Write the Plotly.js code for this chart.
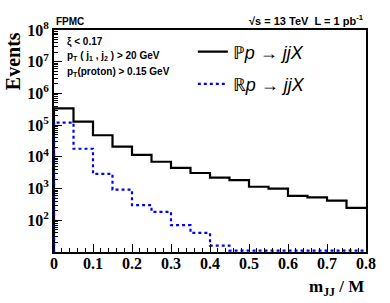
<!DOCTYPE html>
<html><head><meta charset="utf-8">
<script src="https://cdn.plot.ly/plotly-3.0.1.min.js"></script>
<style>html,body{margin:0;padding:0;background:#fff}#c{width:390px;height:303px}</style>
</head><body><div id="c"></div>
<script>
const binEdges = [0,0.05,0.1,0.15,0.2,0.25,0.3,0.35,0.4,0.45,0.5,0.55,0.6,0.65,0.7,0.75,0.8];
const pomeron = [340000,130000,48000,21000,11500,7000,4500,3100,2200,1850,1140,1000,590,525,415,247];
const reggeon = [120000,18000,2900,920,300,185,70,40,16,11,11,11,11,11,11,11];
const yTickVals = [1e2,1e3,1e4,1e5,1e6,1e7,1e8];
const yTickText = ['10<sup>2</sup>','10<sup>3</sup>','10<sup>4</sup>','10<sup>5</sup>','10<sup>6</sup>','10<sup>7</sup>','10<sup>8</sup>'];
const xTickVals = [0,0.1,0.2,0.3,0.4,0.5,0.6,0.7,0.8];
const xTickText = ['0','0.1','0.2','0.3','0.4','0.5','0.6','0.7','0.8'];
const yFloor = 10;

function stepXY(vals){
  const x=[binEdges[0]], y=[yFloor];
  for(let i=0;i<vals.length;i++){x.push(binEdges[i]);y.push(vals[i]);}
  x.push(binEdges[vals.length]); y.push(vals[vals.length-1]);
  return {x,y};
}
const minorVals=[];
for(let e=1;e<8;e++){for(let m=2;m<=9;m++){minorVals.push(m*Math.pow(10,e));}}

const p=stepXY(pomeron), r=stepXY(reggeon);
const traces=[
 {x:p.x,y:p.y,type:'scatter',mode:'lines',line:{shape:'hv',color:'#000',width:2.2},
  name:'ℙ<i>p</i> → <i>jjX</i>',legendgroup:'a'},
 {x:r.x,y:r.y,type:'scatter',mode:'lines',line:{shape:'hv',color:'#0000ff',width:2.2,dash:'dot'},
  name:'ℝ<i>p</i> → <i>jjX</i>',legendgroup:'b'}
];
const serifB={family:'Liberation Serif, Times New Roman, serif',size:16,color:'#000',weight:'bold'};
const sansB={family:'Liberation Sans, Arial, sans-serif',size:10,color:'#000',weight:'bold'};
const layout={
 width:390,height:303,margin:{l:54,r:24,t:30,b:51},
 paper_bgcolor:'#fff',plot_bgcolor:'#fff',
 showlegend:true,
 legend:{x:0.445,y:0.985,xanchor:'left',yanchor:'top',bgcolor:'rgba(0,0,0,0)',
   font:{family:'Liberation Sans, Arial, sans-serif',size:18,color:'#000'},
   traceorder:'grouped',tracegroupgap:6},
 xaxis:{range:[0,0.8],showgrid:false,zeroline:false,showline:true,linewidth:2,linecolor:'#000',mirror:true,
   ticks:'inside',ticklen:8,tickwidth:1,tickcolor:'#000',
   tickvals:xTickVals,ticktext:xTickText,ticklabelstandoff:-4,
   tickfont:serifB,
   minor:{dtick:0.02,tick0:0,ticks:'inside',ticklen:4,tickwidth:1,tickcolor:'#000',showgrid:false}},
 yaxis:{type:'log',range:[1,8],showgrid:false,zeroline:false,showline:true,linewidth:2,linecolor:'#000',mirror:true,
   ticks:'inside',ticklen:8,tickwidth:1,tickcolor:'#000',tickvals:yTickVals,ticktext:yTickText,
   tickfont:serifB,
   minor:{tickvals:minorVals,ticks:'inside',ticklen:4,tickwidth:1,tickcolor:'#000',showgrid:false}},
 annotations:[
  {xref:'paper',yref:'paper',x:0,y:1.005,xanchor:'left',yanchor:'bottom',text:'FPMC',showarrow:false,font:{...sansB,size:10}},
  {xref:'paper',yref:'paper',x:1,y:1.005,xanchor:'right',yanchor:'bottom',text:'√s = 13 TeV  L = 1 pb<sup>-1</sup>',showarrow:false,font:{...sansB,size:11}},
  {xref:'paper',yref:'paper',x:0.035,y:0.945,xanchor:'left',yanchor:'middle',text:'ξ < 0.17',showarrow:false,font:sansB},
  {xref:'paper',yref:'paper',x:0.035,y:0.885,xanchor:'left',yanchor:'middle',text:'p<sub>T</sub> ( j<sub>1</sub> , j<sub>2</sub> ) > 20 GeV',showarrow:false,font:sansB},
  {xref:'paper',yref:'paper',x:0.035,y:0.81,xanchor:'left',yanchor:'middle',text:'p<sub>T</sub>(proton) > 0.15 GeV',showarrow:false,font:sansB},
  {xref:'paper',yref:'paper',x:1,y:-0.16,xanchor:'right',yanchor:'middle',text:'m<sub>JJ</sub> / M',showarrow:false,font:{...serifB,size:17}},
  {xref:'paper',yref:'paper',x:-0.131,y:1,xanchor:'center',yanchor:'top',textangle:-90,text:'Events',showarrow:false,font:{...serifB,size:20}}
 ]
};
Plotly.newPlot('c',traces,layout,{displayModeBar:false,staticPlot:true});
</script></body></html>
